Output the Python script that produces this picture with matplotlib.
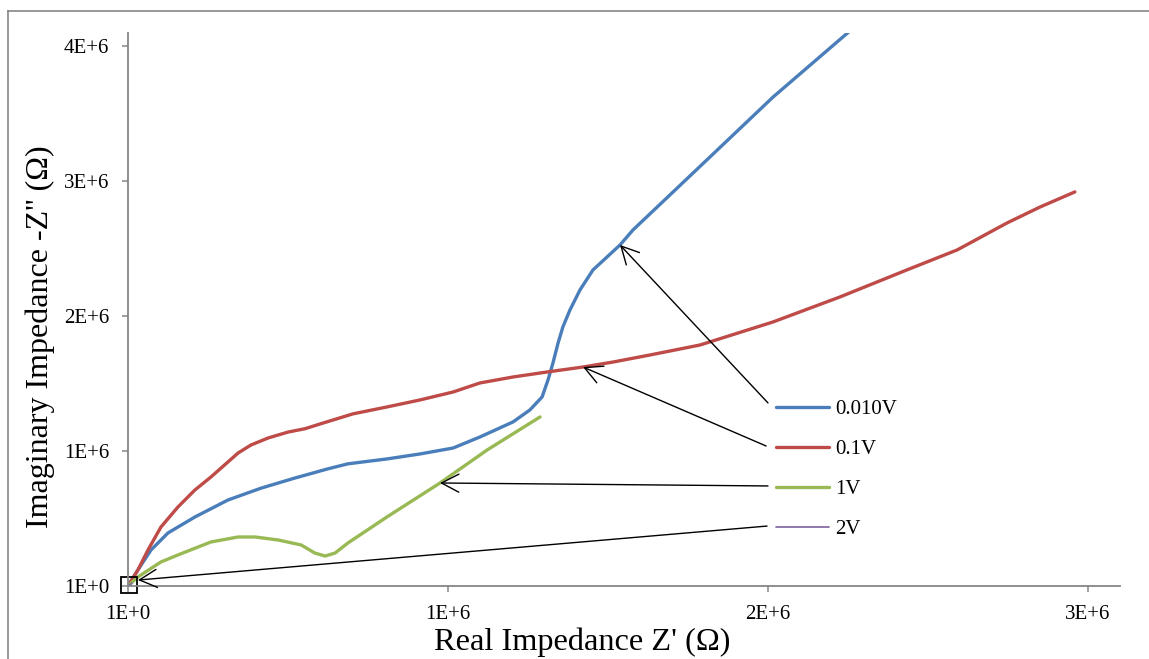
import matplotlib
matplotlib.use("Agg")
import matplotlib.pyplot as plt
from matplotlib.lines import Line2D
from matplotlib.ticker import FixedLocator, FuncFormatter

plt.rcParams["font.family"] = ["Liberation Serif", "DejaVu Serif"]

# Nyquist data (real, imaginary) in ohm
re_010 = [0, 0.031e6, 0.072e6, 0.125e6, 0.209e6, 0.3125e6, 0.416e6, 0.522e6, 0.625e6,
          0.6875e6, 0.809e6, 0.9125e6, 1.016e6, 1.1e6, 1.203e6, 1.256e6, 1.294e6,
          1.3125e6, 1.328e6, 1.344e6, 1.359e6, 1.381e6, 1.4125e6, 1.453e6, 1.497e6,
          1.5375e6, 1.578e6, 1.809e6, 2.016e6, 2.27e6]
im_010 = [0, 0.119e6, 0.267e6, 0.393e6, 0.511e6, 0.637e6, 0.725e6, 0.800e6, 0.868e6,
          0.905e6, 0.941e6, 0.978e6, 1.022e6, 1.104e6, 1.215e6, 1.304e6, 1.400e6,
          1.526e6, 1.652e6, 1.800e6, 1.919e6, 2.044e6, 2.193e6, 2.341e6, 2.437e6,
          2.526e6, 2.637e6, 3.156e6, 3.622e6, 4.14e6]

re_01 = [0, 0.031e6, 0.0625e6, 0.103e6, 0.156e6, 0.209e6, 0.259e6, 0.3125e6, 0.344e6,
         0.384e6, 0.4375e6, 0.5e6, 0.553e6, 0.600e6, 0.703e6, 0.809e6, 0.9125e6,
         1.016e6, 1.1e6, 1.203e6, 1.309e6, 1.422e6, 1.516e6, 1.631e6, 1.7875e6,
         2.016e6, 2.225e6, 2.434e6, 2.591e6, 2.747e6, 2.85e6, 2.959e6]
im_01 = [0, 0.119e6, 0.267e6, 0.437e6, 0.585e6, 0.711e6, 0.807e6, 0.919e6, 0.985e6,
         1.044e6, 1.096e6, 1.140e6, 1.165e6, 1.200e6, 1.275e6, 1.326e6, 1.378e6,
         1.437e6, 1.504e6, 1.548e6, 1.585e6, 1.622e6, 1.659e6, 1.711e6, 1.785e6,
         1.956e6, 2.141e6, 2.341e6, 2.489e6, 2.689e6, 2.807e6, 2.919e6]

re_1 = [0, 0.031e6, 0.103e6, 0.156e6, 0.259e6, 0.344e6, 0.397e6, 0.469e6, 0.541e6,
        0.584e6, 0.616e6, 0.647e6, 0.6875e6, 0.809e6, 0.975e6, 1.122e6, 1.2875e6]
im_1 = [0, 0.067e6, 0.178e6, 0.230e6, 0.326e6, 0.363e6, 0.363e6, 0.341e6, 0.304e6,
        0.244e6, 0.222e6, 0.244e6, 0.319e6, 0.511e6, 0.763e6, 1.007e6, 1.252e6]

re_2 = [0, 0.004e6, 0.008e6, 0.012e6]
im_2 = [0, 0.006e6, 0.013e6, 0.020e6]

labels = ["0.010V", "0.1V", "1V", "2V"]
colors = ["#4a7ebb", "#be4b48", "#98b954", "#7d60a0"]

fig = plt.figure(figsize=(11.49, 6.59), dpi=100)
ax = fig.add_axes([128 / 1149, 1 - 586 / 659, (1120 - 128) / 1149, (586 - 33) / 659])

series = [(re_010, im_010), (re_01, im_01), (re_1, im_1), (re_2, im_2)]
handles = []
for (x, y), c, lab in zip(series, colors, labels):
    lw = 1.2 if lab == "2V" else 2.4
    (h,) = ax.plot(x, y, color=c, lw=lw, label=lab, solid_capstyle="round",
                   solid_joinstyle="round")
    handles.append(h)

# box drawn around the tiny 2V curve
ax.plot(re_2[1], im_2[2] - 0.002e6, marker="s", ms=11.5, mfc="none", mec="black", mew=1.3,
        clip_on=False)

ax.set_xlim(0, 3.1e6)
ax.set_ylim(0, 4.096e6)

ticks_x = [0, 1e6, 2e6, 3e6]
ticks_y = [0, 1e6, 2e6, 3e6, 4e6]
fmt = FuncFormatter(lambda v, p: "1E+0" if v == 0 else f"{int(round(v / 1e6))}E+6")
ax.xaxis.set_major_locator(FixedLocator(ticks_x))
ax.yaxis.set_major_locator(FixedLocator(ticks_y))
ax.xaxis.set_major_formatter(fmt)
ax.yaxis.set_major_formatter(fmt)

for side in ["top", "right"]:
    ax.spines[side].set_visible(False)
for side in ["left", "bottom"]:
    ax.spines[side].set_color("#868686")
    ax.spines[side].set_linewidth(1.3)
ax.tick_params(axis="both", direction="out", length=4.5, width=1.1, color="#868686",
               labelsize=15, labelcolor="black")
ax.tick_params(axis="x", pad=9)
ax.tick_params(axis="y", pad=9)

fig.text(582 / 1149, 1 - 642 / 659, "Real Impedance Z' (\u03a9)", ha="center", va="center",
         fontsize=23.3)
fig.text(40 / 1149, 1 - 337 / 659, "Imaginary Impedance -Z'' (\u03a9)", ha="center",
         va="center", rotation=90, fontsize=23)

leg = ax.legend(handles=handles, loc="upper left", bbox_to_anchor=(0.6535, 0.3366),
                frameon=False, fontsize=15, handlelength=2.55, handletextpad=0.28,
                labelspacing=0.98, borderpad=0, borderaxespad=0)

# callout arrows from the legend entries to each curve
tips = [(re_010[25], im_010[25]), (re_01[21], im_01[21]), (re_1[14], im_1[14]),
        (0.031e6, 0.044e6)]
starts = [(2.0e6, 1.356e6), (1.994e6, 1.037e6), (2.0e6, 0.741e6), (1.997e6, 0.444e6)]
for tip, st in zip(tips, starts):
    ax.annotate("", xy=tip, xytext=st,
                arrowprops=dict(arrowstyle="->,head_length=1.25,head_width=0.65",
                                mutation_scale=10, lw=1.0, color="black",
                                shrinkA=0, shrinkB=0))

# outer chart frame (partly cropped in the original)
fig.add_artist(Line2D([8 / 1149, 1], [1 - 11 / 659, 1 - 11 / 659], color="#868686", lw=1.2))
fig.add_artist(Line2D([8 / 1149, 8 / 1149], [0, 1 - 11 / 659], color="#868686", lw=1.2))

fig.savefig("out.png", dpi=100)
